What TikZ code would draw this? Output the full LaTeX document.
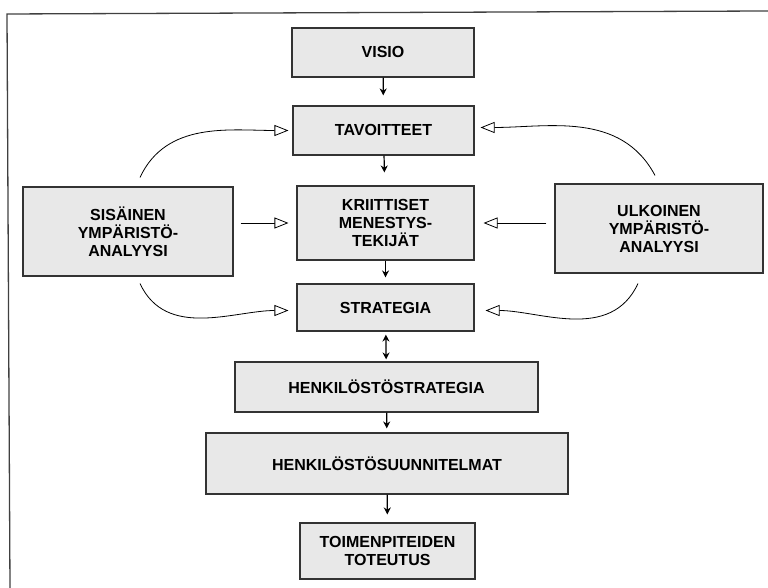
\documentclass[tikz,border=0pt]{standalone}
\usepackage{fontspec}
\setmainfont{Liberation Sans}
\usetikzlibrary{arrows.meta}

\tikzset{
  box/.style={draw=black!80, line width=1.1pt, fill=black!9, align=center,
    inner sep=2pt, font=\bfseries\fontsize{16}{18}\selectfont},
  down/.style={line width=1.2pt, -{Stealth[length=7pt,width=7pt]}, shorten >=6pt},
  feed/.style={line width=0.8pt, -{Triangle[open,fill=white,length=14pt,width=11pt]}}
}

\begin{document}
\begin{tikzpicture}[x=1pt, y=1pt]

  \useasboundingbox (0,0) rectangle (768,588);

  % Frame
  \draw[black!75, line width=1.3pt] (10,0) -- (7,574) -- (768,577);

  % Main column
  \node[box, minimum width=182pt, minimum height=49pt] (visio) at (383, 535.5) {VISIO};
  \node[box, minimum width=181pt, minimum height=49pt] (tavoitteet) at (383.5, 457.5) {TAVOITTEET};
  \node[box, minimum width=177pt, minimum height=74pt] (kriittiset) at (385.5, 365) {KRIITTISET\\MENESTYS-\\TEKIJÄT};
  \node[box, minimum width=177pt, minimum height=47pt] (strategia) at (385.5, 280.5) {STRATEGIA};
  \node[box, minimum width=303pt, minimum height=50pt] (hstrategia) at (386.5, 201) {HENKILÖSTÖSTRATEGIA};
  \node[box, minimum width=362pt, minimum height=61pt] (hsuunnitelmat) at (387, 124.5) {HENKILÖSTÖSUUNNITELMAT};
  \node[box, minimum width=175pt, minimum height=56pt] (toteutus) at (387.5, 37) {TOIMENPITEIDEN\\TOTEUTUS};

  % Side analyses
  \node[box, minimum width=210pt, minimum height=89pt] (sisainen) at (128, 356.5) {SISÄINEN\\YMPÄRISTÖ-\\ANALYYSI};
  \node[box, minimum width=208pt, minimum height=89pt] (ulkoinen) at (659, 359.5) {ULKOINEN\\YMPÄRISTÖ-\\ANALYYSI};

  % Downward flow
  \draw[down, shorten >=10pt] (visio) -- (tavoitteet);
  \draw[down, shorten >=13pt] (tavoitteet) -- (kriittiset);
  \draw[down] (kriittiset) -- (strategia);
  \draw[line width=1.2pt, {Stealth[length=7pt,width=7pt]}-{Stealth[length=7pt,width=7pt]},
    shorten <=3pt, shorten >=2pt] (strategia) -- (hstrategia);
  \draw[down, shorten >=4pt] (hstrategia) -- (hsuunnitelmat);
  \draw[down, shorten >=8pt] (hsuunnitelmat) -- (toteutus);

  % Left inputs
  \draw[feed, shorten >=4pt] ([shift={(12pt,9pt)}]sisainen.north) to[out=65, in=180] (tavoitteet.west);
  \draw[feed, shorten <=7pt, shorten >=8pt] (sisainen.east |- kriittiset.west) -- (kriittiset.west);
  \draw[feed, shorten >=8pt] ([shift={(12pt,-7pt)}]sisainen.south) to[out=-65, in=180] ([yshift=-3pt]strategia.west);

  % Right inputs
  \draw[feed, shorten >=6pt] ([shift={(-4pt,8pt)}]ulkoinen.north) to[out=118, in=0] ([yshift=3pt]tavoitteet.east);
  \draw[feed, shorten <=8pt, shorten >=9pt] (ulkoinen.west |- kriittiset.east) -- (kriittiset.east);
  \draw[feed, shorten >=11pt] ([shift={(-21pt,-10pt)}]ulkoinen.south) to[out=-115, in=0] ([yshift=-3pt]strategia.east);

\end{tikzpicture}
\end{document}
